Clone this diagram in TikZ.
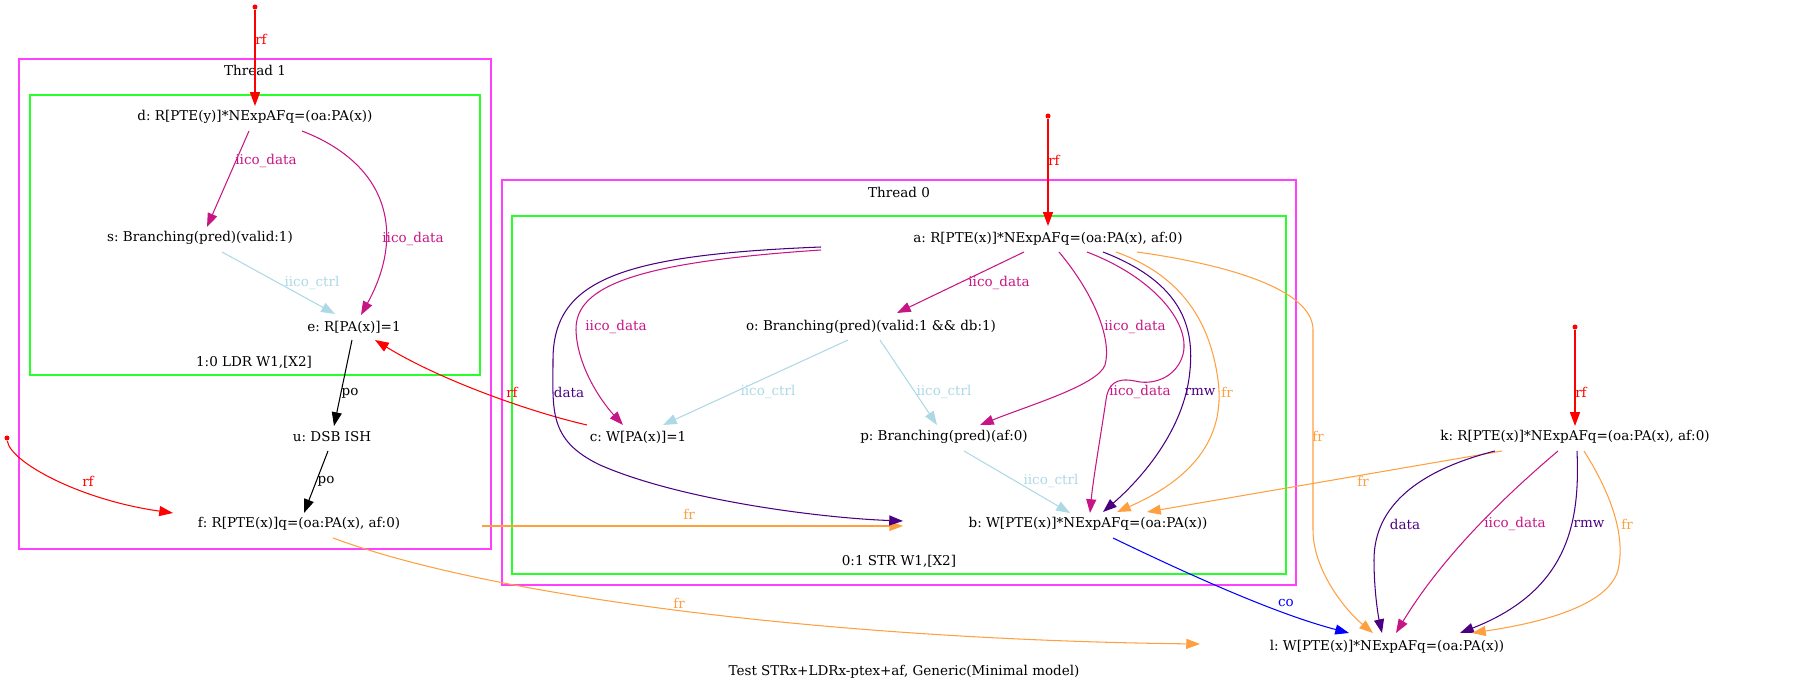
\documentclass[tikz,border=0pt]{standalone}
\usepackage{fontspec}
\setmainfont{DejaVu Serif}
\usetikzlibrary{arrows.meta,calc}

\definecolor{iicod}{RGB}{199,21,133}
\definecolor{iicoc}{RGB}{173,216,230}
\definecolor{dataclr}{RGB}{75,0,130}
\definecolor{frclr}{RGB}{255,160,64}
\definecolor{thrclr}{RGB}{255,64,255}
\definecolor{insclr}{RGB}{40,255,40}
\frenchspacing

\begin{document}
\begin{tikzpicture}[x=0.4pt,y=-0.4pt,
  txt/.style={font=\fontsize{5.4}{6.5}\selectfont,inner sep=0pt},
  ev/.style={txt},
  lbl/.style={txt},
  initdot/.style={circle,fill=red,inner sep=0pt,minimum size=2pt},
  edge/.style={-{Triangle[length=5.5pt,width=4pt]},line width=0.42pt},
  rfedge/.style={edge,red},
  poedge/.style={edge,black},
  frdata/.style={edge,iicod},
  frctrl/.style={edge,iicoc},
  depedge/.style={edge,dataclr},
  fredge/.style={edge,frclr},
  coedge/.style={edge,blue}]
  \useasboundingbox (0,0) rectangle (1807,691);

  % threads and instructions
  \draw[thrclr,line width=0.6pt] (19,59) rectangle (491,549);
  \draw[insclr,line width=0.6pt] (30,95) rectangle (480,375);
  \draw[thrclr,line width=0.6pt] (502,180) rectangle (1296,585);
  \draw[insclr,line width=0.6pt] (512,216) rectangle (1286,574);
  \node[txt] (t1) at (255,70) {Thread 1};
  \node[txt] (i10) at (254,362) {1:0 LDR W1,[X2]};
  \node[txt] (t0) at (899,192) {Thread 0};
  \node[txt] (i01) at (899,561) {0:1 STR W1,[X2]};
  \node[txt] (title) at (904,672) {Test STRx+LDRx-ptex+af, Generic(Minimal model)};

  % events
  \node[ev] (d) at (255,117) {d: R[PTE(y)]*NExpAFq=(oa:PA(x))};
  \node[ev] (s) at (200,238) {s: Branching(pred)(valid:1)};
  \node[ev] (e) at (354,327) {e: R[PA(x)]=1};
  \node[ev] (u) at (332,437) {u: DSB ISH};
  \node[ev] (f) at (299,524) {f: R[PTE(x)]q=(oa:PA(x), af:0)};
  \node[ev] (a) at (1048,239) {a: R[PTE(x)]*NExpAFq=(oa:PA(x), af:0)};
  \node[ev] (o) at (871,327) {o: Branching(pred)(valid:1 \&\& db:1)};
  \node[ev] (c) at (638,437) {c: W[PA(x)]=1};
  \node[ev] (p) at (944,437) {p: Branching(pred)(af:0)};
  \node[ev] (b) at (1088,524) {b: W[PTE(x)]*NExpAFq=(oa:PA(x))};
  \node[ev] (k) at (1575,437) {k: R[PTE(x)]*NExpAFq=(oa:PA(x), af:0)};
  \node[ev] (l) at (1387,647) {l: W[PTE(x)]*NExpAFq=(oa:PA(x))};

  % initial writes
  \node[initdot] (w1) at (255,7) {};
  \node[initdot] (w2) at (1048,116) {};
  \node[initdot] (w3) at (7,438) {};
  \node[initdot] (w4) at (1575,327) {};

  % thread 1
  \draw[rfedge] (w1) -- ($(d)+(0,-11)$) node[lbl,text=red] at (261,39) {rf};
  \draw[frdata] ($(d)+(-6,14)$) -- ($(s)+(7,-11)$) node[lbl,text=iicod] at (266,161) {iico\_data};
  \draw[frdata] ($(d)+(47,14)$) .. controls (390,165) and (405,235) .. ($(e)+(7,-12)$)
    node[lbl,text=iicod] at (413,239) {iico\_data};
  \draw[frctrl] ($(s)+(22,14)$) -- ($(e)+(-19,-13)$) node[lbl,text=iicoc] at (312,283) {iico\_ctrl};
  \draw[poedge] ($(e)+(-2,13)$) -- ($(u)+(2,-11)$) node[lbl] at (350,393) {po};
  \draw[poedge] ($(u)+(-4,14)$) -- ($(f)+(5,-11)$) node[lbl] at (326,481) {po};
  \draw[rfedge] (w3) .. controls (10,462) and (80,500) .. ($(f)+(-126,-11)$)
    node[lbl,text=red] at (88,481) {rf};
  \draw[rfedge] ($(c)+(-51,-12)$) .. controls (530,412) and (440,380) .. ($(e)+(21,13)$)
    node[lbl,text=red] at (512,392) {rf};
  \draw[fredge] ($(f)+(183,2)$) -- ($(b)+(-185,2)$) node[lbl,text=frclr] at (689,514) {fr};
  \draw[fredge] ($(f)+(34,14)$) .. controls (500,600) and (850,640) .. ($(l)+(-187,-3)$)
    node[lbl,text=frclr] at (679,603) {fr};

  % thread 0
  \draw[rfedge] (w2) -- ($(a)+(0,-13)$) node[lbl,text=red] at (1054,160) {rf};
  \draw[frdata] ($(a)+(-24,13)$) -- ($(o)+(26,-14)$) node[lbl,text=iicod] at (999,283) {iico\_data};
  \draw[frdata] ($(a)+(-227,11)$) .. controls (640,262) and (575,285) .. (576,330)
    .. controls (577,365) and (600,400) .. ($(c)+(-15,-12)$)
    node[lbl,text=iicod] at (616,327) {iico\_data};
  \draw[depedge] ($(a)+(-227,8)$) .. controls (620,255) and (553,280) .. (553,360)
    .. controls (553,410) and (548,440) .. (600,465)
    .. controls (680,500) and (820,518) .. ($(b)+(-185,-3)$)
    node[lbl,text=dataclr] at (569,392) {data};
  \draw[frctrl] ($(o)+(-23,13)$) -- ($(c)+(25,-12)$) node[lbl,text=iicoc] at (768,392) {iico\_ctrl};
  \draw[frctrl] ($(o)+(9,13)$) -- ($(p)+(-7,-12)$) node[lbl,text=iicoc] at (944,392) {iico\_ctrl};
  \draw[frdata] ($(a)+(11,13)$) .. controls (1095,295) and (1112,340) .. (1105,365)
    .. controls (1098,385) and (1030,405) .. ($(p)+(36,-12)$)
    node[lbl,text=iicod] at (1135,327) {iico\_data};
  \draw[frdata] ($(a)+(39,13)$) .. controls (1160,280) and (1195,330) .. (1181,360)
    .. controls (1172,380) and (1150,385) .. (1135,381)
    .. controls (1115,377) and (1108,385) .. (1106,400)
    .. controls (1100,440) and (1093,480) .. ($(b)+(2,-11)$)
    node[lbl,text=iicod] at (1140,392) {iico\_data};
  \draw[depedge] ($(a)+(55,13)$) .. controls (1175,280) and (1195,320) .. (1190,370)
    .. controls (1185,430) and (1140,480) .. ($(b)+(15,-12)$)
    node[lbl,text=dataclr] at (1200,392) {rmw};
  \draw[fredge] ($(a)+(68,13)$) .. controls (1180,275) and (1210,320) .. (1218,380)
    .. controls (1226,440) and (1190,480) .. ($(b)+(29,-12)$)
    node[lbl,text=frclr] at (1227,392) {fr};
  \draw[fredge] ($(a)+(89,13)$) .. controls (1230,265) and (1313,290) .. (1313,330)
    -- (1313,530) .. controls (1313,570) and (1345,610) .. ($(l)+(-14,-14)$)
    node[lbl,text=frclr] at (1318,436) {fr};
  \draw[frctrl] ($(p)+(20,14)$) -- ($(b)+(-18,-11)$) node[lbl,text=iicoc] at (1051,481) {iico\_ctrl};
  \draw[coedge] ($(b)+(25,14)$) .. controls (1200,580) and (1280,615) .. ($(l)+(-38,-14)$)
    node[lbl,text=blue] at (1286,603) {co};

  % outside write
  \draw[rfedge] (w4) -- ($(k)+(0,-11)$) node[lbl,text=red] at (1581,392) {rf};
  \draw[fredge] ($(k)+(-73,14)$) -- ($(b)+(59,-12)$) node[lbl,text=frclr] at (1363,481) {fr};
  \draw[depedge] ($(k)+(-80,14)$) .. controls (1420,470) and (1374,505) .. (1374,560)
    .. controls (1374,590) and (1378,615) .. ($(l)+(-5,-14)$)
    node[lbl,text=dataclr] at (1405,524) {data};
  \draw[frdata] ($(k)+(-17,14)$) .. controls (1500,500) and (1440,560) .. ($(l)+(9,-14)$)
    node[lbl,text=iicod] at (1515,524) {iico\_data};
  \draw[depedge] ($(k)+(2,14)$) .. controls (1580,520) and (1570,590) .. ($(l)+(73,-14)$)
    node[lbl,text=dataclr] at (1589,524) {rmw};
  \draw[fredge] ($(k)+(9,14)$) .. controls (1615,500) and (1625,540) .. (1618,570)
    .. controls (1610,600) and (1560,620) .. ($(l)+(85,-14)$)
    node[lbl,text=frclr] at (1627,524) {fr};
\end{tikzpicture}
\end{document}
